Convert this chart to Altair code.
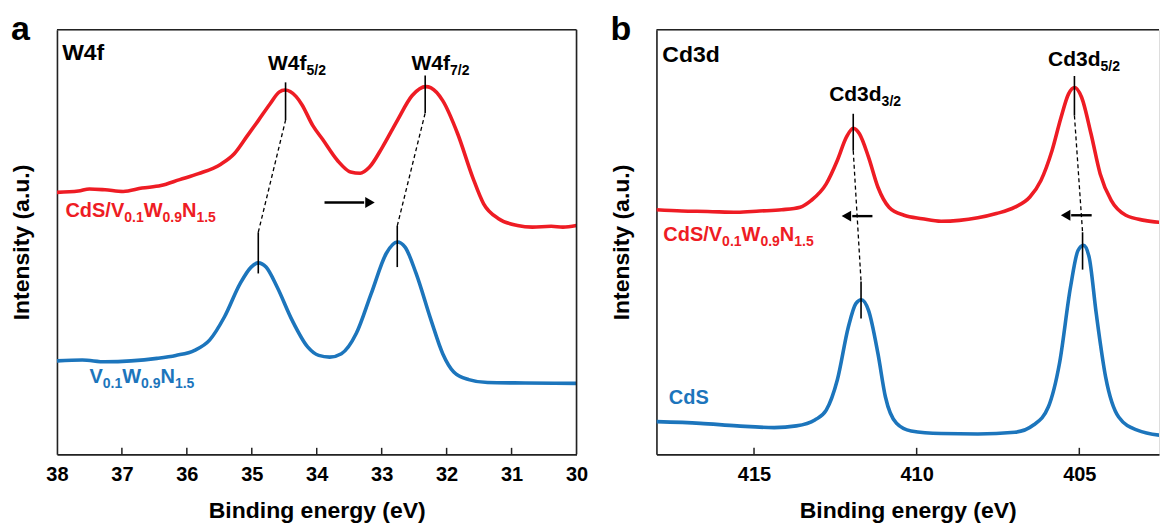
import altair as alt
import pandas as pd

FONT = "Liberation Sans"
RED = "#EE1C24"
BLUE = "#1C75BC"

# ---------------- Panel a : W4f ----------------
a_red_E = [38.00, 37.67, 37.50, 37.26, 36.98, 36.69, 36.40, 36.11, 35.82, 35.47, 35.27, 35.07,
           34.90, 34.72, 34.58, 34.49, 34.32, 34.23, 34.06, 33.91, 33.68, 33.48, 33.33, 33.19,
           32.99, 32.76, 32.53, 32.32, 32.24, 32.06, 31.83, 31.60, 31.43, 31.20, 30.91, 30.68,
           30.39, 30.21, 30.00]
a_red_I = [61.7, 62.0, 62.5, 62.3, 61.9, 62.7, 63.3, 64.7, 66.1, 68.4, 70.8, 75.0,
           78.6, 82.5, 85.3, 85.8, 84.3, 82.4, 77.4, 74.2, 69.2, 66.5, 66.2, 67.6,
           72.3, 78.6, 84.5, 86.6, 86.3, 83.3, 75.5, 65.3, 59.0, 55.5, 53.9, 53.5,
           53.7, 53.5, 53.9]
a_blue_E = [38.00, 37.61, 37.26, 36.86, 36.46, 36.17, 35.88, 35.65, 35.42, 35.18, 35.01, 34.90,
            34.78, 34.61, 34.38, 34.14, 33.97, 33.80, 33.62, 33.39, 33.16, 32.93, 32.76, 32.64,
            32.47, 32.24, 32.06, 31.89, 31.66, 31.37, 30.79, 30.00]
a_blue_I = [22.0, 22.2, 21.8, 22.0, 22.6, 23.3, 24.5, 26.9, 32.4, 40.2, 44.1, 45.1,
            44.1, 39.4, 31.6, 25.3, 23.3, 22.9, 23.7, 28.5, 37.9, 47.3, 50.0, 48.8,
            42.6, 31.6, 23.7, 19.4, 17.6, 16.9, 16.8, 16.7]
a_ticks = [37, 36, 35, 34, 33, 32, 31]
a_tick_labels = [38, 37, 36, 35, 34, 33, 32, 31, 30]
a_mark_E = [34.48, 32.33, 34.90, 32.76]
a_mark_top = [87.6, 89.2, 52.3, 53.8]
a_mark_bot = [78.7, 80.4, 42.6, 44.1]
a_arrows = [(33.88, 33.27, 33.18, 59.3, "triangle-right")]

# ---------------- Panel b : Cd3d ----------------
b_red_E = [418.00, 417.22, 416.43, 415.52, 414.83, 414.15, 413.58, 413.24, 412.78, 412.44, 412.16,
           411.95, 411.76, 411.48, 411.19, 410.85, 410.39, 409.83, 409.25, 408.69, 408.12, 407.55,
           406.98, 406.52, 406.18, 405.84, 405.56, 405.33, 405.14, 404.93, 404.64, 404.36, 404.02,
           403.57, 403.00, 402.31]
b_red_I = [57.6, 57.3, 57.2, 57.0, 57.3, 57.6, 58.2, 59.8, 63.7, 69.2, 74.7,
           76.8, 75.5, 70.0, 62.9, 58.2, 56.3, 55.5, 54.9, 55.1, 55.7, 56.7,
           58.2, 60.6, 64.5, 71.5, 79.4, 84.9, 86.4, 84.1, 75.5, 66.1, 59.8,
           56.3, 55.1, 54.5]
b_blue_E = [418.00, 416.65, 415.52, 414.38, 413.70, 413.13, 412.78, 412.44, 412.10, 411.87, 411.70,
            411.48, 411.19, 410.96, 410.62, 410.17, 409.25, 408.12, 406.98, 406.41, 405.95, 405.61,
            405.27, 405.04, 404.87, 404.70, 404.48, 404.19, 403.79, 403.22, 402.31]
b_blue_I = [7.7, 7.3, 6.7, 6.3, 6.7, 8.1, 10.4, 17.5, 30.0, 35.5, 36.4,
            33.9, 23.7, 13.5, 7.3, 5.5, 4.9, 4.8, 5.2, 6.9, 11.2, 21.4,
            39.4, 48.0, 49.2, 46.5, 33.2, 18.2, 8.8, 5.7, 4.3]
b_ticks = [415, 410, 405]
b_tick_labels = [415, 410, 405]
b_mark_E = [411.95, 405.15, 411.71, 404.90]
b_mark_top = [80.2, 89.1, 40.7, 52.3]
b_mark_bot = [71.5, 79.8, 32.0, 43.5]
b_arrows = [(411.36, 411.98, 412.16, 56.1, "triangle-left"),
            (404.62, 405.25, 405.42, 56.3, "triangle-left")]

# ---------------- labels ----------------
a_labels = [
    (37.92, 92.9, [("W4f", False)], 23, "black"),
    (34.75, 90.4, [("W4f", False), ("5/2", True)], 21, "black"),
    (32.54, 90.4, [("W4f", False), ("7/2", True)], 21, "black"),
    (37.87, 55.9, [("CdS/V", False), ("0.1", True), ("W", False), ("0.9", True), ("N", False), ("1.5", True)], 20, RED),
    (37.50, 16.8, [("V", False), ("0.1", True), ("W", False), ("0.9", True), ("N", False), ("1.5", True)], 20, BLUE),
]
b_labels = [
    (417.82, 92.3, [("Cd3d", False)], 23, "black"),
    (412.69, 83.3, [("Cd3d", False), ("3/2", True)], 21, "black"),
    (405.96, 91.5, [("Cd3d", False), ("5/2", True)], 21, "black"),
    (417.79, 50.2, [("CdS/V", False), ("0.1", True), ("W", False), ("0.9", True), ("N", False), ("1.5", True)], 20, RED),
    (417.62, 11.8, [("CdS", False)], 20, BLUE),
]

W_A, W_B, H = 520, 503, 425
DOM_A = [30, 38]
DOM_B = [402.55, 418]

ADV = {"C": 722, "d": 611, "S": 667, "/": 278, "V": 667, "W": 944, "N": 722, "0": 556,
       ".": 278, "1": 556, "9": 556, "5": 556, "4": 556, "f": 333, "7": 556, "2": 556, "3": 556}


def label_rows(labels, px_per_E):
    rows = []
    px_per_I = H / 100.0
    for E0, I0, parts, F, col in labels:
        x_px = 0.0
        for txt, sub in parts:
            size = 14 if sub else F
            rows.append(dict(E=E0 - x_px / px_per_E,
                             I=I0 - (5.0 / px_per_I if sub else 0.0),
                             text=txt, size=size, color=col))
            x_px += sum(ADV[c] for c in txt) / 1000.0 * size
    return pd.DataFrame(rows)


def make_panel(red_E, red_I, blue_E, blue_I, ticks, tick_labels, mark_E, mark_top, mark_bot,
               arrows, labels, dom, width, letter, right_border):
    px_per_E = width / (dom[1] - dom[0])
    xs = alt.Scale(domain=dom, reverse=True, nice=False, zero=False)
    ys = alt.Scale(domain=[0, 100], nice=False, zero=False)
    xaxis = alt.Axis(values=tick_labels, ticks=False, tickSize=0, grid=False, labelPadding=10,
                     labelFontSize=20, labelFont=FONT, labelFontWeight="bold", labelColor="black",
                     labelFlush=False, labelOverlap=False, format="d",
                     domainColor="#222222", domainWidth=1.6,
                     title="Binding energy (eV)", titleFont=FONT, titleFontSize=23,
                     titleFontWeight="bold", titleColor="black", titlePadding=15)
    yaxis = alt.Axis(labels=False, ticks=False, tickSize=0, grid=False,
                     domainColor="#222222", domainWidth=1.6,
                     title="Intensity (a.u.)", titleFont=FONT, titleFontSize=23,
                     titleFontWeight="bold", titleColor="black", titlePadding=23)

    def X(f):
        return alt.X(f, scale=xs, axis=xaxis)

    def Y(f):
        return alt.Y(f, scale=ys, axis=yaxis)

    curves = pd.concat([
        pd.DataFrame({"E": red_E, "I": red_I, "s": "red", "o": range(len(red_E))}),
        pd.DataFrame({"E": blue_E, "I": blue_I, "s": "blue", "o": range(len(blue_E))}),
    ])
    lines = alt.Chart(curves).mark_line(strokeWidth=3.6, interpolate="monotone", clip=True).encode(
        x=X("E:Q"), y=Y("I:Q"),
        color=alt.Color("s:N", scale=alt.Scale(domain=["red", "blue"], range=[RED, BLUE]), legend=None),
        order="o:Q",
    )

    marks = pd.DataFrame({"E": mark_E, "top": mark_top, "bot": mark_bot})
    markers = alt.Chart(marks).mark_rule(color="black", strokeWidth=1.6).encode(
        x=X("E:Q"), y=Y("top:Q"), y2="bot:Q")

    links = pd.DataFrame({
        "E": [mark_E[0], mark_E[2], mark_E[1], mark_E[3]],
        "I": [mark_bot[0], mark_top[2], mark_bot[1], mark_top[3]],
        "g": [0, 0, 1, 1],
    })
    dashed = alt.Chart(links).mark_line(color="black", strokeWidth=1.3, strokeDash=[4, 3]).encode(
        x=X("E:Q"), y=Y("I:Q"), detail="g:N")

    arr = pd.DataFrame([dict(tail=a[0], base=a[1], head=a[2], I=a[3], shape=a[4]) for a in arrows])
    arrow_line = alt.Chart(arr).mark_rule(color="black", strokeWidth=2.4).encode(
        x=X("tail:Q"), x2="base:Q", y=Y("I:Q"))
    arrow_head = alt.Chart(arr).mark_point(filled=True, color="black", opacity=1, size=120).encode(
        x=X("head:Q"), y=Y("I:Q"), shape=alt.Shape("shape:N", scale=None))

    tk = alt.Chart(pd.DataFrame({"t": ticks})).mark_rule(color="#222222", strokeWidth=1.5).encode(
        x=X("t:Q"), y=alt.value(H), y2=alt.value(H - 6.5))

    txt = alt.Chart(label_rows(labels, px_per_E)).mark_text(
        align="left", baseline="alphabetic", font=FONT, fontWeight="bold").encode(
        x=X("E:Q"), y=Y("I:Q"),
        text="text:N", size=alt.Size("size:Q", scale=None), color=alt.Color("color:N", scale=None))

    frame_top = alt.Chart(alt.Data(values=[{}])).mark_rule(color="#222222", strokeWidth=1.6).encode(
        x=alt.value(0), x2=alt.value(width), y=alt.value(0))
    layers = [lines, markers, dashed, arrow_line, arrow_head, tk, txt, frame_top]
    if right_border:
        layers.append(alt.Chart(alt.Data(values=[{}])).mark_rule(color="#222222", strokeWidth=1.6).encode(
            x=alt.value(width), y=alt.value(0), y2=alt.value(H)))
    lett = alt.Chart(alt.Data(values=[{"t": letter}])).mark_text(
        align="left", baseline="alphabetic", font=FONT, fontWeight="bold", fontSize=34, color="black").encode(
        x=alt.value(-46), y=alt.value(10.5), text="t:N")
    layers.append(lett)
    return alt.layer(*layers).properties(width=width, height=H)


pa = make_panel(a_red_E, a_red_I, a_blue_E, a_blue_I, a_ticks, a_tick_labels, a_mark_E, a_mark_top,
                a_mark_bot, a_arrows, a_labels, DOM_A, W_A, "a", True)
pb = make_panel(b_red_E, b_red_I, b_blue_E, b_blue_I, b_ticks, b_tick_labels, b_mark_E, b_mark_top,
                b_mark_bot, b_arrows, b_labels, DOM_B, W_B, "b", False)

chart = alt.hconcat(pa, pb, spacing=80, bounds="flush").properties(
    padding={"left": 2, "top": 4.5, "right": 0, "bottom": 0}
).configure_view(stroke=None).configure(background="white")

chart.save("out.html", embed_options={"renderer": "svg", "actions": False})
